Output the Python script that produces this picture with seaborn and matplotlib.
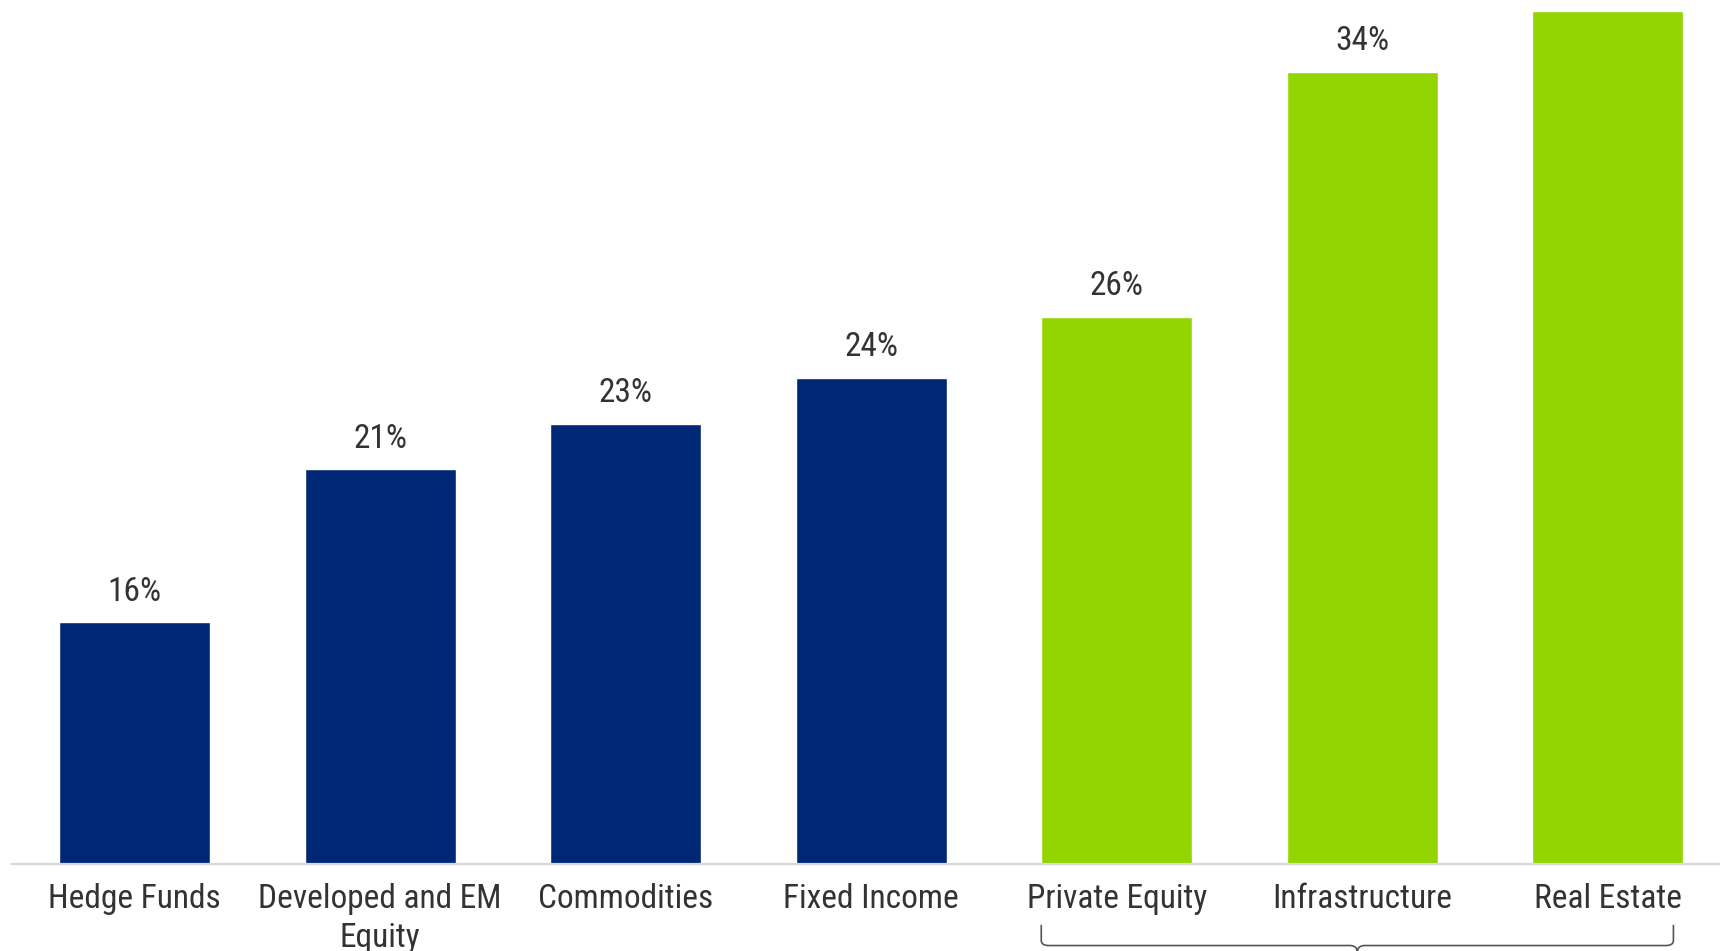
import matplotlib
matplotlib.use("Agg")
import matplotlib.pyplot as plt
import matplotlib.transforms as mtransforms
from matplotlib.path import Path
from matplotlib.patches import PathPatch
from matplotlib import font_manager
import seaborn as sns
import pandas as pd

categories = ["Hedge Funds", "Developed and EM\nEquity", "Commodities", "Fixed Income",
              "Private Equity", "Infrastructure", "Real Estate"]
values = [16.0, 21.0, 22.5, 24.0, 26.0, 34.0, 36.0]
value_labels = ["16%", "21%", "23%", "24%", "26%", "34%", None]
groups = ["Traditional", "Traditional", "Traditional", "Traditional", "Real", "Real", "Real"]

NAVY = "#002776"
GREEN = "#93D500"
TEXT = "#333333"

sns.set_theme(style="white")
avail = {f.name for f in font_manager.fontManager.ttflist}
family = None
for cand in ["Liberation Sans Narrow", "DejaVu Sans Condensed", "Roboto Condensed", "Liberation Sans"]:
    if cand in avail:
        family = cand
        break
plt.rcParams["font.family"] = [family, "DejaVu Sans"]

W, H = 1720, 951
fig = plt.figure(figsize=(W / 100, H / 100), dpi=100)
left_px, base_px = 12.0, 863.5
ax = fig.add_axes([left_px / W, (H - base_px) / H, (W - left_px) / W, base_px / H])

df = pd.DataFrame({"cat": categories, "val": values, "grp": groups})
sns.barplot(data=df, x="cat", y="val", hue="grp", palette={"Traditional": NAVY, "Real": GREEN},
            dodge=False, width=0.615, legend=False, ax=ax, saturation=1)

for s in ["top", "right", "left"]:
    ax.spines[s].set_visible(False)
ax.spines["bottom"].set_color("#d9d9d9")
ax.spines["bottom"].set_linewidth(1.6)
ax.set_yticks([])
ax.set_xlabel("")
ax.set_ylabel("")
ax.set_xticks(range(len(categories)))
ax.set_xticklabels(categories, fontsize=24, color=TEXT, linespacing=1.3)
ax.tick_params(axis="x", which="major", length=0, pad=14)
ax.set_xticks([i - 0.5 for i in range(len(categories) + 1)], minor=True)
ax.tick_params(axis="x", which="minor", direction="in", length=7.5, width=1.2, color="#d9d9d9")

step = 245.5
ax.set_xlim(-0.5, -0.5 + (W - left_px) / step)
ybot = 8.11
ax.set_ylim(ybot, ybot + base_px / 30.57)

for i, (v, lab) in enumerate(zip(values, value_labels)):
    if lab:
        ax.annotate(lab, (i, v), xytext=(0, 22), textcoords="offset points",
                    ha="center", va="center", fontsize=24, color=TEXT)

# brace under the real assets
bw = 0.615
x0 = categories.index("Private Equity") - bw / 2
x1 = categories.index("Real Estate") + bw / 2 - 0.04
xm = (x0 + x1) / 2
trans = mtransforms.blended_transform_factory(ax.transData, ax.transAxes)
yt, yb = -0.071, -0.095
r = 0.03
rv = 0.006
verts = [(x0, yt), (x0, yb + rv), (x0, yb), (x0 + r, yb),
         (xm - r, yb), (xm, yb), (xm, yb - 0.008),
         (xm, yb - 0.008), (xm, yb), (xm + r, yb),
         (x1 - r, yb), (x1, yb), (x1, yb + rv), (x1, yt)]
codes = [Path.MOVETO, Path.LINETO, Path.CURVE3, Path.CURVE3,
         Path.LINETO, Path.CURVE3, Path.CURVE3,
         Path.MOVETO, Path.CURVE3, Path.CURVE3,
         Path.LINETO, Path.CURVE3, Path.CURVE3, Path.LINETO]
brace = PathPatch(Path(verts, codes), transform=trans, fill=False,
                  edgecolor="#555555", linewidth=1.2, clip_on=False)
ax.add_patch(brace)

fig.savefig("out.png", dpi=100)
